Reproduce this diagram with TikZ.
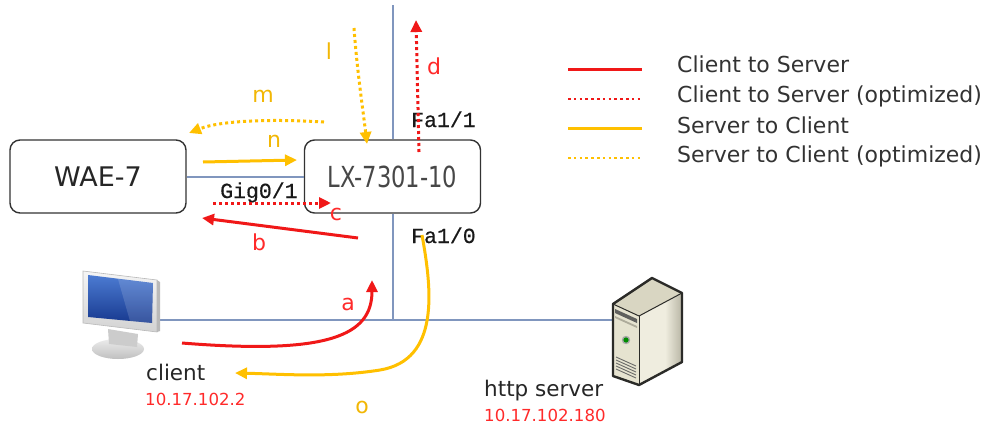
\documentclass[tikz,border=0pt]{standalone}
\usepackage{fontspec}
\setmainfont{DejaVu Sans}
\newfontfamily\portfont[FakeBold=0.5]{Liberation Mono}
\usepackage{graphicx}
\usetikzlibrary{arrows.meta}

\definecolor{flowred}{HTML}{F01818}
\definecolor{flowgold}{HTML}{FFC000}
\definecolor{linkblue}{HTML}{8096BE}
\definecolor{labelred}{HTML}{FF2A2A}
\definecolor{labelgold}{HTML}{F2B705}
\definecolor{boxedge}{HTML}{333333}
\definecolor{srvedge}{HTML}{2B2B28}
\definecolor{srvtop}{HTML}{D9D6C2}
\definecolor{srvfront}{HTML}{E6E3D0}
\definecolor{srvside}{HTML}{EFEDDF}
\definecolor{scrtop}{HTML}{4C7BD2}
\definecolor{scrbot}{HTML}{17398F}

\tikzset{
  devbox/.style={draw=boxedge, line width=1.4pt, rounded corners=10pt,
    minimum width=176pt, minimum height=73pt, inner sep=0pt},
  link/.style={draw=linkblue, line width=2pt},
  flowtip/.style={-{Triangle[length=12pt,width=11pt]}},
  c2s/.style={draw=flowred, line width=3pt, flowtip},
  c2sopt/.style={draw=flowred, line width=3pt, dash pattern=on 3pt off 3pt, flowtip},
  s2c/.style={draw=flowgold, line width=3pt, flowtip},
  s2copt/.style={draw=flowgold, line width=3pt, dash pattern=on 3pt off 3pt, flowtip},
  keysolid/.style={line width=3pt},
  keydot/.style={line width=2.6pt, dash pattern=on 2.6pt off 3.2pt},
  keytext/.style={anchor=base west, inner sep=0pt, font=\fontsize{22}{22}\selectfont, text=black!80},
  redletter/.style={anchor=base, inner sep=0pt, font=\fontsize{22}{22}\selectfont, text=labelred},
  goldletter/.style={anchor=base, inner sep=0pt, font=\fontsize{22}{22}\selectfont, text=labelgold},
  port/.style={anchor=base west, inner sep=0pt, font=\portfont\fontsize{21.5}{21.5}\selectfont, text=black!90},
  hostname/.style={anchor=base west, inner sep=0pt, font=\fontsize{21.5}{21.5}\selectfont, text=black!85},
  hostaddr/.style={anchor=base west, inner sep=0pt, font=\fontsize{16.6}{16.6}\selectfont, text=labelred},
}

\begin{document}
\begin{tikzpicture}[x=1pt, y=-1pt]
\useasboundingbox[fill=white] (0,0) rectangle (985,426);

% ---------- cabling ----------
\node[devbox, text=black!85] (wae) at (98,176.5)
  {\fontsize{27}{27}\selectfont WAE-7};
\node[devbox, text=black!72] (lx) at (392.5,176.5)
  {\scalebox{0.78}[1]{\fontsize{29}{29}\selectfont LX-7301-10}};

\coordinate (uplink) at (392.5,5);
\coordinate (hub) at (392.5,320);
\coordinate (clientport) at (157,320);
\coordinate (serverport) at (613,320);

\draw[link] (wae.east) -- (lx.west);
\draw[link] (uplink) -- (lx.north);
\draw[link] (lx.south) -- (hub);
\draw[link] (clientport) -- (serverport);

% ---------- interface names ----------
\node[port] (fa11) at (411,127) {Fa1/1};
\node[port] (fa10) at (411,243) {Fa1/0};
\node[port] (gig01) at (220,198) {Gig0/1};

% ---------- client workstation ----------
\begin{scope}
  \shade[top color=gray!15, bottom color=gray!50] (118,349) ellipse [x radius=26pt, y radius=10pt];
  \fill[gray!40] (108,329) -- (138,334) -- (137,347) -- (109,344) -- cycle;
  \shade[top color=gray!8, bottom color=gray!35, draw=gray!55, line width=0.6pt]
    (83,271) -- (157,280) -- (157,332) -- (83,323) -- cycle;
  \fill[gray!55] (157,280) -- (160,282) -- (160,331) -- (157,332) -- cycle;
  \shade[top color=scrtop, bottom color=scrbot]
    (88,275) -- (153,283) -- (152,323) -- (88,317) -- cycle;
  \fill[white, opacity=0.14] (118,279) -- (153,283) -- (152,323) -- (130,321) -- cycle;
\end{scope}
\coordinate (clientcaption) at (146,380);
\node[hostname] (clientname) at (clientcaption) {client};
\node[hostaddr] (clientip) at (145,405) {10.17.102.2};

% ---------- http server tower ----------
\begin{scope}[line join=round]
  \fill[srvtop] (613,304) -- (652,278) -- (682,293) -- (639,316) -- cycle;
  \fill[srvside] (639,316) -- (682,293) -- (682,362) -- (639,385) -- cycle;
  \shade[left color=srvside, right color=srvtop!85!black] (665,302) -- (682,293) -- (682,362) -- (665,371) -- cycle;
  \fill[srvfront] (613,304) -- (639,316) -- (639,385) -- (613,376) -- cycle;
  \fill[srvedge!75] (615,309) -- (637,319) -- (637,323) -- (615,313) -- cycle;
  \fill[srvtop!80!black] (615,316) -- (637,326) -- (637,328) -- (615,318) -- cycle;
  \fill[gray!70] (626,340) circle (4.2pt);
  \fill[green!55!black] (626,340) circle (2.6pt);
  \foreach \k in {0,...,4}
    \draw[srvedge!70, line width=0.9pt] (616,357+3*\k) -- (636,366+3*\k);
  \draw[srvedge, line width=1pt] (613,304) -- (639,316) -- (682,293);
  \draw[srvedge, line width=1pt] (639,316) -- (639,385);
  \draw[srvedge, line width=2.4pt]
    (613,304) -- (652,278) -- (682,293) -- (682,362) -- (639,385) -- (613,376) -- cycle;
\end{scope}
\node[hostname] (servername) at (484,396) {http server};
\node[hostaddr] (serverip) at (484,421) {10.17.102.180};

% ---------- traffic flows ----------
\coordinate (a0) at (182,343);
\coordinate (a1) at (372,280);
\draw[c2s] (a0) .. controls (330,355) and (372,335) .. (a1);
\node[redletter] (la) at (348,310) {a};

\coordinate (b0) at (358,238);
\coordinate (b1) at (202,218);
\draw[c2s] (b0) -- (b1);
\node[redletter] (lb) at (259,250) {b};

\coordinate (c0) at (213,203);
\coordinate (c1) at (331,203);
\draw[c2sopt] (c0) -- (c1);
\node[redletter] (lc) at (336,220) {c};

\coordinate (d0) at (419,152);
\coordinate (d1) at (416,20);
\draw[c2sopt] (d0) -- (d1);
\node[redletter] (ld) at (434,74) {d};

\coordinate (l0) at (354,28);
\coordinate (l1) at (367,144);
\draw[s2copt] (l0) .. controls (357,70) and (363,110) .. (l1);
\node[goldletter] (ll) at (329,59) {l};

\coordinate (m0) at (324,122);
\coordinate (m1) at (189,133);
\draw[s2copt] (m0) .. controls (275,119) and (222,120) .. (m1);
\node[goldletter] (lm) at (263,102) {m};

\coordinate (n0) at (203,162);
\coordinate (n1) at (297,160);
\draw[s2c] (n0) -- (n1);
\node[goldletter] (ln) at (274,147) {n};

\coordinate (o0) at (422,235);
\coordinate (o1) at (235,373);
\draw[s2c] (o0) .. controls (432,290) and (440,360) .. (380,370)
  .. controls (330,378) and (280,374) .. (o1);
\node[goldletter] (lo) at (362,413) {o};

% ---------- legend ----------
\coordinate (k1a) at (568,69);  \coordinate (k1b) at (642,69);
\coordinate (k2a) at (568,99);  \coordinate (k2b) at (642,99);
\coordinate (k3a) at (568,128); \coordinate (k3b) at (642,128);
\coordinate (k4a) at (568,158); \coordinate (k4b) at (642,158);
\draw[keysolid, flowred] (k1a) -- (k1b);
\draw[keydot, flowred] (k2a) -- (k2b);
\draw[keysolid, flowgold] (k3a) -- (k3b);
\draw[keydot, flowgold] (k4a) -- (k4b);
\node[keytext] (key1) at (677,72) {Client to Server};
\node[keytext] (key2) at (677,102) {Client to Server (optimized)};
\node[keytext] (key3) at (677,133) {Server to Client};
\node[keytext] (key4) at (677,162) {Server to Client (optimized)};
\end{tikzpicture}
\end{document}
